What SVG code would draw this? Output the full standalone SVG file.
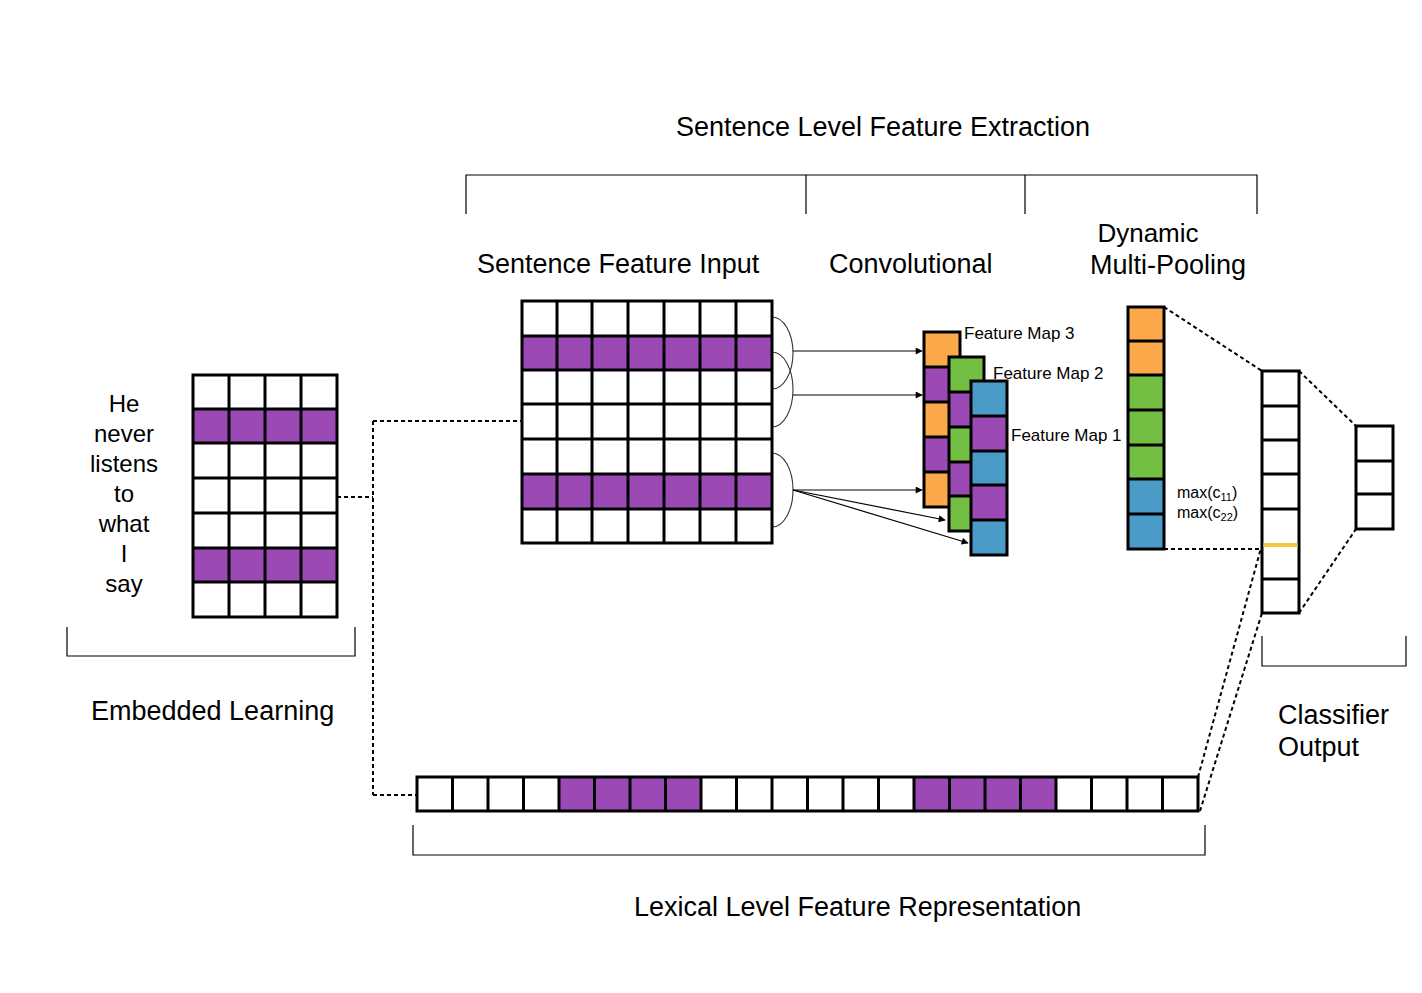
<svg xmlns="http://www.w3.org/2000/svg" width="1422" height="993" viewBox="0 0 1422 993">
<defs>
<style>
.t{font-family:"Liberation Sans",Arial,Helvetica,sans-serif;fill:#000}
.lab{font-size:27px}
.w{font-size:24px;text-anchor:middle}
.fm{font-size:17px}
.grid{fill:none;stroke:#000;stroke-width:3}
.pu{fill:#9b4ab5}
.or{fill:#fba94b}
.gr{fill:#72bf44}
.bl{fill:#4b9bc8}
.wh{fill:#fff}
.br{fill:none;stroke:#000;stroke-width:1.2}
.dash{fill:none;stroke:#000;stroke-width:2;stroke-dasharray:4 3}
.arc{fill:none;stroke:#333;stroke-width:1.1}
.arr{fill:none;stroke:#000;stroke-width:1.2;marker-end:url(#ah)}
</style>
<marker id="ah" viewBox="0 0 10 10" refX="9" refY="5" markerWidth="9" markerHeight="7" markerUnits="userSpaceOnUse" orient="auto">
<path d="M0,0 L10,5 L0,10 z" fill="#000"/>
</marker>
</defs>
<rect width="1422" height="993" fill="#fff"/>

<g id="labels">
<text class="t lab" x="883" y="136" text-anchor="middle">Sentence Level Feature Extraction</text>
<text class="t lab" x="477" y="273">Sentence Feature Input</text>
<text class="t lab" x="829" y="273">Convolutional</text>
<text class="t" x="1148" y="242" font-size="26" text-anchor="middle">Dynamic</text>
<text class="t lab" x="1090" y="274">Multi-Pooling</text>
<text class="t lab" x="91" y="720">Embedded Learning</text>
<text class="t lab" x="1278" y="724">Classifier</text>
<text class="t lab" x="1278" y="756">Output</text>
<text class="t lab" x="634" y="916">Lexical Level Feature Representation</text>
</g>

<g id="brackets">
<path class="br" d="M466,214 V175 H1257 V214 M806,175 V214 M1025,175 V214"/>
<path class="br" d="M67,627 V656 H355 V627"/>
<path class="br" d="M413,825 V855 H1205 V825"/>
<path class="br" d="M1262,636 V666 H1406 V636"/>
</g>

<g id="words">
<text class="t w" x="124" y="412">He</text>
<text class="t w" x="124" y="442">never</text>
<text class="t w" x="124" y="472">listens</text>
<text class="t w" x="124" y="502">to</text>
<text class="t w" x="124" y="532">what</text>
<text class="t w" x="124" y="562">I</text>
<text class="t w" x="124" y="592">say</text>
</g>

<g id="connectors">
<path class="dash" d="M337,497 H373 M373,421 V795 M373,421 H521 M373,795 H417"/>
<path class="dash" d="M1164,307 L1262,371 M1164,549 H1262 M1299,371 L1356,426 M1299,613 L1356,529 M1198,777 L1261,548 M1200,811 L1262,613"/>
<path class="arc" d="M772,317 A21,36 0 0 1 772,389"/>
<path class="arc" d="M772,352 A21,37.5 0 0 1 772,427"/>
<path class="arc" d="M772,453 A21,37 0 0 1 772,527"/>
<path class="arr" d="M793,351 H922"/>
<path class="arr" d="M793,395 H922"/>
<path class="arr" d="M793,490 H922"/>
<path class="arr" d="M793,490 L945,520"/>
<path class="arr" d="M793,490 L968,543"/>
</g>

<g id="embedding-matrix">
<rect class="wh" x="193" y="375" width="144" height="242"/>
<rect class="pu" x="193" y="409" width="144" height="34"/>
<rect class="pu" x="193" y="548" width="144" height="34"/>
<path class="grid" d="M193,375 H337 V617 H193 Z M229,375 V617 M265,375 V617 M301,375 V617 M193,409 H337 M193,443 H337 M193,478 H337 M193,513 H337 M193,548 H337 M193,582 H337"/>
</g>

<g id="sentence-feature-input">
<rect class="wh" x="522" y="301" width="250" height="242"/>
<rect class="pu" x="522" y="336" width="250" height="34"/>
<rect class="pu" x="522" y="474" width="250" height="35"/>
<path class="grid" d="M522,301 H772 V543 H522 Z M557,301 V543 M592,301 V543 M628,301 V543 M664,301 V543 M700,301 V543 M736,301 V543 M522,336 H772 M522,370 H772 M522,404 H772 M522,439 H772 M522,474 H772 M522,509 H772"/>
</g>

<g id="feature-map-3">
<rect class="or" x="924" y="332" width="36" height="35"/>
<rect class="pu" x="924" y="367" width="36" height="35"/>
<rect class="or" x="924" y="402" width="36" height="35"/>
<rect class="pu" x="924" y="437" width="36" height="35"/>
<rect class="or" x="924" y="472" width="36" height="35"/>
<path class="grid" d="M924,332 H960 V507 H924 Z M924,367 H960 M924,402 H960 M924,437 H960 M924,472 H960"/>
<text class="t fm" x="964" y="339">Feature Map 3</text>
</g>

<g id="feature-map-2">
<rect class="gr" x="949" y="357" width="35" height="35"/>
<rect class="pu" x="949" y="392" width="35" height="35"/>
<rect class="gr" x="949" y="427" width="35" height="35"/>
<rect class="pu" x="949" y="462" width="35" height="34"/>
<rect class="gr" x="949" y="496" width="35" height="35"/>
<path class="grid" d="M949,357 H984 V531 H949 Z M949,392 H984 M949,427 H984 M949,462 H984 M949,496 H984"/>
<text class="t fm" x="993" y="379">Feature Map 2</text>
</g>

<g id="feature-map-1">
<rect class="bl" x="971" y="381" width="36" height="35"/>
<rect class="pu" x="971" y="416" width="36" height="35"/>
<rect class="bl" x="971" y="451" width="36" height="34"/>
<rect class="pu" x="971" y="485" width="36" height="35"/>
<rect class="bl" x="971" y="520" width="36" height="35"/>
<path class="grid" d="M971,381 H1007 V555 H971 Z M971,416 H1007 M971,451 H1007 M971,485 H1007 M971,520 H1007"/>
<text class="t fm" x="1011" y="441">Feature Map 1</text>
</g>

<g id="dynamic-multi-pooling">
<rect class="or" x="1128" y="307" width="36" height="34"/>
<rect class="or" x="1128" y="341" width="36" height="34"/>
<rect class="gr" x="1128" y="375" width="36" height="35"/>
<rect class="gr" x="1128" y="410" width="36" height="35"/>
<rect class="gr" x="1128" y="445" width="36" height="34"/>
<rect class="bl" x="1128" y="479" width="36" height="35"/>
<rect class="bl" x="1128" y="514" width="36" height="35"/>
<path class="grid" d="M1128,307 H1164 V549 H1128 Z M1128,341 H1164 M1128,375 H1164 M1128,410 H1164 M1128,445 H1164 M1128,479 H1164 M1128,514 H1164"/>
<text class="t" x="1177" y="498" font-size="16">max(c<tspan font-size="11" dy="3">11</tspan><tspan dy="-3">)</tspan></text>
<text class="t" x="1177" y="518" font-size="16">max(c<tspan font-size="11" dy="3">22</tspan><tspan dy="-3">)</tspan></text>
</g>

<g id="classifier-input">
<rect class="wh" x="1262" y="371" width="37" height="242"/>
<path class="grid" d="M1262,371 H1299 V613 H1262 Z M1262,406 H1299 M1262,440 H1299 M1262,474 H1299 M1262,509 H1299 M1262,579 H1299"/>
<path d="M1263.5,545 H1297.5" stroke="#f0c93c" stroke-width="4" fill="none"/>
</g>

<g id="classifier-output">
<rect class="wh" x="1356" y="426" width="37" height="103"/>
<path class="grid" d="M1356,426 H1393 V529 H1356 Z M1356,461 H1393 M1356,494 H1393"/>
</g>

<g id="lexical-row">
<rect class="wh" x="417" y="777" width="781" height="34"/>
<rect class="pu" x="559" y="777" width="142" height="34"/>
<rect class="pu" x="914" y="777" width="142" height="34"/>
<path class="grid" d="M417,777 H1198 V811 H417 Z M452.5,777 V811 M488,777 V811 M523.5,777 V811 M559,777 V811 M594.5,777 V811 M630,777 V811 M665.5,777 V811 M701,777 V811 M736.5,777 V811 M772,777 V811 M807.5,777 V811 M843,777 V811 M878.5,777 V811 M914,777 V811 M949.5,777 V811 M985,777 V811 M1020.5,777 V811 M1056,777 V811 M1091.5,777 V811 M1127,777 V811 M1162.5,777 V811"/>
</g>
</svg>
